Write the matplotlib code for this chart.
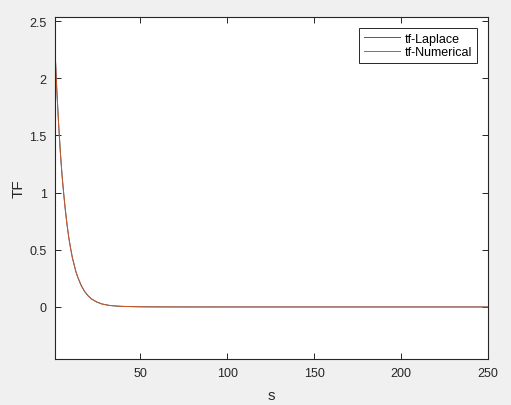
import matplotlib
matplotlib.use("Agg")
import matplotlib.pyplot as plt

# Data
s_vals = [1, 2, 3, 4, 5, 6, 7, 8, 9, 10, 11, 12, 13, 14, 16, 18, 20, 22, 25, 28,
          32, 36, 40, 45, 50, 60, 70, 80, 100, 150, 200, 250]
tf_laplace = [2.25, 1.91, 1.62, 1.37, 1.16, 0.99, 0.84, 0.71, 0.60, 0.51, 0.43, 0.37,
              0.31, 0.264, 0.19, 0.136, 0.098, 0.070, 0.043, 0.026,
              0.014, 0.008, 0.005, 0.003, 0.0015, 0.0005, 0.0002, 0.0001, 0.0, 0.0, 0.0, 0.0]
tf_numerical = list(tf_laplace)

x_ticks = [50, 100, 150, 200, 250]
y_ticks = [0, 0.5, 1, 1.5, 2, 2.5]
y_tick_labels = ["0", "0.5", "1", "1.5", "2", "2.5"]

plt.rcParams['font.family'] = ['Liberation Sans', 'DejaVu Sans']

fig = plt.figure(figsize=(5.11, 4.06), dpi=100, facecolor='#F0F0F0')
ax = fig.add_axes([55/511, 1 - 360/406, (488 - 55)/511, (360 - 18)/406])
ax.set_facecolor('white')

ax.plot(s_vals, tf_laplace, color='#0072BD', lw=0.7, label='tf-Laplace')
ax.plot(s_vals, tf_numerical, color='#D95319', lw=0.7, label='tf-Numerical')

ax.set_xlim(1, 250)
ax.set_ylim(-0.455, 2.535)
ax.set_xticks(x_ticks)
ax.set_xticklabels([str(v) for v in x_ticks])
ax.set_yticks(y_ticks)
ax.set_yticklabels(y_tick_labels)

dark = '#262626'
for sp in ax.spines.values():
    sp.set_color(dark)
    sp.set_linewidth(0.8)
ax.tick_params(direction='in', length=4, width=0.7, colors=dark, labelsize=9,
               top=True, right=True, pad=6)

ax.set_xlabel('s', fontsize=11, color=dark, labelpad=6)
ax.set_ylabel('TF', fontsize=11, color=dark, labelpad=3)

leg = ax.legend(loc='upper right', fontsize=9, frameon=True, fancybox=False,
                edgecolor=dark, framealpha=1, borderpad=0.35, handlelength=2.9,
                handletextpad=0.4, labelspacing=0.15, borderaxespad=0.9)
leg.get_frame().set_linewidth(0.7)

fig.savefig('out.png', dpi=100, facecolor=fig.get_facecolor())
